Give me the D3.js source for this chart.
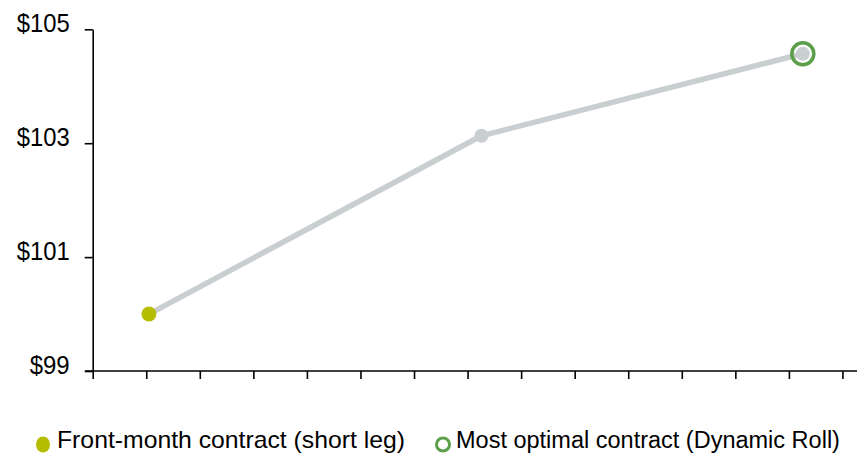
<!DOCTYPE html>
<html>
<head>
<meta charset="utf-8">
<script src="https://cdn.jsdelivr.net/npm/d3@7"></script>
<style>
  html, body { margin: 0; padding: 0; background: #fff; }
  svg { display: block; overflow: hidden; }
  text { font-family: "Liberation Sans", Arial, sans-serif; fill: #000; }
</style>
</head>
<body>
<svg id="chart" width="857" height="455"></svg>
<script>
// roll path: front month -> intermediate contract -> optimal contract
var contracts = ["Front-month", "Intermediate", "Most optimal"];
var monthPos = [1.05, 7.26, 13.26];
var prices = [100.0, 103.13, 104.57];
var yTicks = [99, 101, 103, 105];
var legendLabels = ["Front-month contract (short leg)", "Most optimal contract (Dynamic Roll)"];

var lineColor = "#c9ced1";
var frontColor = "#b5bd00";
var optimalColor = "#5c9f4b";

var svg = d3.select("#chart");

var x = d3.scaleLinear().domain([0, 15]).range([92.7, 896]);
var y = d3.scaleLinear().domain([99, 105]).range([371, 29.3]);

// x axis: tick marks only, no labels
var xAxis = svg.append("g")
    .attr("transform", "translate(0," + y(99) + ")")
    .call(d3.axisBottom(x).tickValues(d3.range(0, 16)).tickSize(8).tickSizeOuter(0).tickFormat(""));
xAxis.select(".domain").attr("d", "M85,0H896").attr("stroke", "#000").attr("stroke-width", 1.6);
xAxis.selectAll(".tick line").attr("stroke", "#000").attr("stroke-width", 1.6);

// y axis
var yAxis = svg.append("g")
    .attr("transform", "translate(" + x(0) + ",0)")
    .call(d3.axisLeft(y).tickValues(yTicks).tickSize(8).tickSizeOuter(0).tickFormat(function(d){ return "$" + d; }));
yAxis.select(".domain").attr("stroke", "#000").attr("stroke-width", 1.6);
yAxis.selectAll(".tick line").attr("stroke", "#000").attr("stroke-width", 1.6);
yAxis.selectAll(".tick text")
    .attr("x", -23)
    .attr("dy", "0.1em")
    .style("font-size", "26px")
    .attr("textLength", function(d){ return String(d).length == 3 ? 53 : 40; })
    .attr("lengthAdjust", "spacingAndGlyphs")
    .attr("font-family", null);

var pts = contracts.map(function(c, i){ return {name: c, pos: monthPos[i], price: prices[i]}; });

svg.append("path")
    .datum(pts)
    .attr("fill", "none")
    .attr("stroke", lineColor)
    .attr("stroke-width", 5.5)
    .attr("stroke-linejoin", "round")
    .attr("d", d3.line().x(function(d){ return x(d.pos); }).y(function(d){ return y(d.price); }));

svg.selectAll("circle.pt")
    .data(pts)
    .enter()
    .append("circle")
    .attr("class", "pt")
    .attr("cx", function(d){ return x(d.pos); })
    .attr("cy", function(d){ return y(d.price); })
    .attr("r", function(d, i){ return i == 0 ? 7.5 : 7; })
    .attr("fill", function(d, i){ return i == 0 ? frontColor : lineColor; });

// ring around the optimal contract
var last = pts[pts.length - 1];
svg.append("circle")
    .attr("cx", x(last.pos))
    .attr("cy", y(last.price))
    .attr("r", 11)
    .attr("fill", "none")
    .attr("stroke", optimalColor)
    .attr("stroke-width", 3.5);

// legend
var legend = svg.append("g");
legend.append("ellipse")
    .attr("cx", 43).attr("cy", 444.5).attr("rx", 7).attr("ry", 8)
    .attr("fill", frontColor);
legend.append("text")
    .attr("x", 57).attr("y", 448)
    .style("font-size", "24px")
    .attr("textLength", 348)
    .attr("lengthAdjust", "spacingAndGlyphs")
    .text(legendLabels[0]);
legend.append("circle")
    .attr("cx", 443).attr("cy", 444.5).attr("r", 6.5)
    .attr("fill", "none")
    .attr("stroke", optimalColor)
    .attr("stroke-width", 3);
legend.append("text")
    .attr("x", 456).attr("y", 448)
    .style("font-size", "23.5px")
    .text(legendLabels[1]);
</script>
</body>
</html>
